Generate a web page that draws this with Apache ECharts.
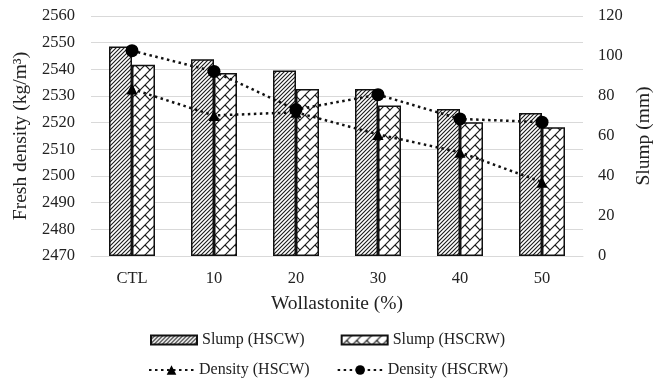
<!DOCTYPE html>
<html>
<head>
<meta charset="utf-8">
<script src="https://cdn.jsdelivr.net/npm/echarts@6/dist/echarts.min.js"></script>
<style>html,body{margin:0;padding:0;background:#fff;}#c{width:666px;height:382px;}</style>
</head>
<body>
<div id="c"></div>
<script>
const categories = ['CTL', '10', '20', '30', '40', '50'];
const slumpHSCW = [104.7, 98.4, 92.8, 83.5, 73.5, 71.5];
const slumpHSCRW = [95.6, 91.5, 83.5, 75.3, 66.9, 64.4];
const densityHSCW = [2532.6, 2522.7, 2523.9, 2515.6, 2508.9, 2497.7];
const densityHSCRW = [2547.0, 2539.2, 2524.9, 2530.5, 2521.4, 2520.2];

function hatch() {
  const s = 4, c = document.createElement('canvas');
  c.width = s; c.height = s;
  const g = c.getContext('2d');
  g.fillStyle = '#fff'; g.fillRect(0, 0, s, s);
  g.strokeStyle = '#1a1a1a'; g.lineWidth = 1.1;
  g.beginPath();
  g.moveTo(-1, s + 1); g.lineTo(s + 1, -1);
  g.moveTo(-1, 1); g.lineTo(1, -1);
  g.moveTo(s - 1, s + 1); g.lineTo(s + 1, s - 1);
  g.stroke();
  return c;
}
function brick() {
  const s = 10, c = document.createElement('canvas');
  c.width = s; c.height = s;
  const g = c.getContext('2d');
  g.fillStyle = '#fff'; g.fillRect(0, 0, s, s);
  g.strokeStyle = '#1a1a1a'; g.lineWidth = 1.2;
  g.beginPath();
  g.moveTo(-1, s + 1); g.lineTo(s + 1, -1);
  g.moveTo(s / 2, s / 2); g.lineTo(s + 1, s + 1);
  g.moveTo(-0.5, -0.5); g.lineTo(0.5, 0.5);
  g.stroke();
  return c;
}

const font = 'Liberation Serif';
const tickFont = { fontFamily: font, fontSize: 16.5, color: '#222' };
const nameFont = { fontFamily: font, fontSize: 19.5, color: '#222' };
const chart = echarts.init(document.getElementById('c'));
chart.setOption({
  animation: false,
  textStyle: { fontFamily: font },
  grid: { left: 91, right: 83, top: 16, bottom: 126 },
  legend: [
    {
      data: ['Slump (HSCW)', 'Slump (HSCRW)'],
      left: 145, top: 327,
      itemWidth: 46, itemHeight: 9, itemGap: 36,
      icon: 'rect',
      textStyle: { fontFamily: font, fontSize: 16, color: '#222' }
    },
    {
      data: ['Density (HSCW)', 'Density (HSCRW)'],
      left: 143, top: 357,
      itemWidth: 45, itemHeight: 12, itemGap: 27,
      textStyle: { fontFamily: font, fontSize: 16, color: '#222' }
    }
  ],
  xAxis: {
    type: 'category',
    data: categories,
    name: 'Wollastonite (%)',
    nameLocation: 'middle',
    nameGap: 38,
    nameTextStyle: nameFont,
    axisLine: { lineStyle: { color: '#d9d9d9' } },
    axisTick: { show: false },
    axisLabel: Object.assign({ margin: 14 }, tickFont)
  },
  yAxis: [
    {
      type: 'value', min: 2470, max: 2560, interval: 10,
      name: 'Fresh density (kg/m³)',
      nameLocation: 'middle', nameGap: 60,
      nameTextStyle: nameFont,
      axisLine: { show: false }, axisTick: { show: false },
      axisLabel: Object.assign({ margin: 16, formatter: v => String(v) }, tickFont),
      splitLine: { lineStyle: { color: '#d9d9d9' } }
    },
    {
      type: 'value', min: 0, max: 120, interval: 20,
      name: 'Slump (mm)',
      nameLocation: 'middle', nameGap: 47,
      nameRotate: 90,
      nameTextStyle: nameFont,
      axisLine: { show: false }, axisTick: { show: false },
      axisLabel: Object.assign({ margin: 15 }, tickFont),
      splitLine: { show: false }
    }
  ],
  series: [
    {
      name: 'Slump (HSCW)', type: 'bar', yAxisIndex: 1,
      data: slumpHSCW, barWidth: 23, barGap: '0%',
      itemStyle: { color: { image: hatch(), repeat: 'repeat' }, borderColor: '#111', borderWidth: 1.5 }
    },
    {
      name: 'Slump (HSCRW)', type: 'bar', yAxisIndex: 1,
      data: slumpHSCRW, barWidth: 23,
      itemStyle: { color: { image: brick(), repeat: 'repeat' }, borderColor: '#111', borderWidth: 1.5 }
    },
    {
      name: 'Density (HSCW)', type: 'line', yAxisIndex: 0,
      data: densityHSCW, symbol: 'triangle', symbolSize: 11,
      itemStyle: { color: '#000' },
      lineStyle: { color: '#111', width: 2.5, type: [2.5, 3.5] },
      z: 5
    },
    {
      name: 'Density (HSCRW)', type: 'line', yAxisIndex: 0,
      data: densityHSCRW, symbol: 'circle', symbolSize: 13,
      itemStyle: { color: '#000' },
      lineStyle: { color: '#111', width: 2.5, type: [2.5, 3.5] },
      z: 6
    }
  ]
});
</script>
</body>
</html>
